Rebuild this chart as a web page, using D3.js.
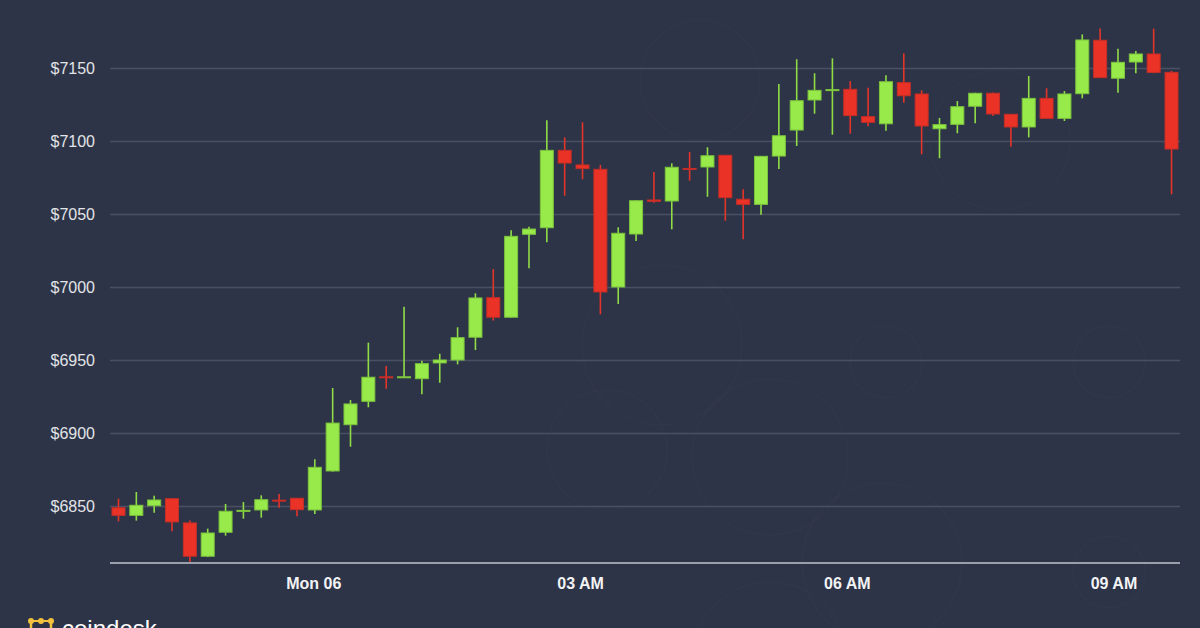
<!DOCTYPE html>
<html>
<head>
<meta charset="utf-8">
<script src="https://cdn.jsdelivr.net/npm/d3@7"></script>
<style>
  html, body { margin: 0; padding: 0; background: #2e3447; }
  svg { display: block; }
</style>
</head>
<body>
<svg id="chart" width="1200" height="628"></svg>
<script>
// ---- data (12-minute candles, Sun 5 Aug 2018 21:48 → Mon 6 Aug 09:48) ----
const startTime = new Date(2018, 7, 5, 21, 48);
const candleMinutes = 12;
const opens  = [6848.8,6843.6,6850.2,6855,6838.4,6815.6,6832,6846.5,6847.3,6854,6855.3,6847.3,6874,6905.7,6921.7,6938.5,6938,6937.2,6948,6950,
                6965.6,6992.7,6979.3,7036.1,7040.6,7093.6,7083.6,7080.6,7000,7036.3,7059.6,7058.9,7081.2,7082.2,7090.2,7060.1,7056.6,7089.7,7107.5,7128.1,
                7135,7135.4,7116.7,7111.8,7140,7132.2,7108.4,7111.4,7123.8,7132.7,7118.3,7109.6,7129.2,7115.5,7132.4,7169,7143,7154.1,7159.6,7147];
const highs  = [6855,6859.6,6857,6855.5,6840,6834.5,6851.4,6852.7,6857.3,6858.2,6855.5,6882,6930.8,6922.6,6961.9,6945.9,6986.5,6949.5,6954.3,6972.4,
                6995.7,7012.3,7038.8,7041.3,7114.2,7102.5,7112.8,7083.6,7040.9,7059.5,7078.8,7084.7,7092.5,7095.7,7090.5,7067,7089.8,7139,7156,7146.4,
                7156.6,7141.1,7136.5,7145,7160,7134.7,7115.8,7127.4,7133,7133.2,7118.5,7144.5,7136.1,7134.2,7173,7177,7163.2,7161.6,7177,7148];
const lows   = [6839.5,6840,6845.4,6832.7,6811,6815,6829.7,6841.3,6842,6848.8,6843,6844.5,6873.5,6890.6,6917.6,6930.3,6937.8,6926.5,6934.4,6947,
                6956.8,6977,6979,7012.8,7030.6,7062.5,7073.8,6981.3,6988.4,7031.5,7057.7,7039.5,7072.8,7061.8,7045.4,7032.7,7049.5,7080.8,7096.6,7118.7,
                7104.3,7105,7110.1,7107,7126.2,7090.9,7088.2,7105.3,7112.1,7117.1,7096.1,7102.5,7115.3,7113.7,7129.2,7143.2,7133,7146.4,7146.4,7063.5];
const closes = [6843.6,6850.5,6854.1,6839.1,6815.6,6831.5,6846.4,6847,6854.3,6853.5,6847.5,6876.5,6906.8,6919.9,6938.2,6938,6938.5,6947.5,6950,6965.3,
                6992.5,6979.3,7034.7,7039.7,7093.6,7084.9,7081.1,6996.6,7036.8,7059.1,7058.7,7082,7080.8,7089.9,7061.2,7056.6,7089.5,7103.6,7127.6,7134.7,
                7135.2,7117.4,7112.8,7140.6,7131,7110.3,7111.2,7123.5,7132.7,7118.5,7109.6,7129.2,7115.5,7132.2,7169.2,7143.4,7153.9,7159.6,7147,7094.5];
const priceTicks = [6850, 6900, 6950, 7000, 7050, 7100, 7150];
const timeTicks = [new Date(2018,7,6,0), new Date(2018,7,6,3), new Date(2018,7,6,6), new Date(2018,7,6,9)];

const candles = opens.map((o, i) => ({
  t: new Date(startTime.getTime() + i * candleMinutes * 60000),
  o, h: highs[i], l: lows[i], c: closes[i]
}));

// ---- layout ----
const svg = d3.select("#chart");
const left = 110, right = 1180, axisY = 563;
const padMs = 5.7 * 60000;
const x = d3.scaleTime()
  .domain([new Date(candles[0].t - padMs), new Date(+candles[candles.length-1].t + padMs)])
  .range([left, right]);
const y = d3.scaleLinear().domain([6850, 7150]).range([506, 68]);

svg.append("rect").attr("width", 1200).attr("height", 628).attr("fill", "#2e3447");

// very faint watermark circles
const wm = [[886,362,36],[1109,362,36],[1109,572,36],[662,345,80],[770,457,78],[882,563,80],[770,660,78],[700,80,60],[1000,140,70],[607,450,60]];
svg.append("g").selectAll("circle").data(wm).join("circle")
  .attr("cx", d => d[0]).attr("cy", d => d[1]).attr("r", d => d[2])
  .attr("fill", "none").attr("stroke", "rgba(255,255,255,0.016)").attr("stroke-width", 1.5);

// y axis with gridlines
const yAxis = svg.append("g").attr("transform", `translate(${left},0)`)
  .call(d3.axisLeft(y).tickValues(priceTicks).tickFormat(d => "$" + d)
        .tickSize(-(right - left)).tickPadding(15));
yAxis.select(".domain").remove();
yAxis.selectAll(".tick line").attr("stroke", "#4a5064").attr("stroke-width", 1.5);
yAxis.selectAll(".tick text").attr("fill", "#e2e4e8")
  .style("font-family", "'Liberation Sans', Arial, Helvetica, sans-serif").style("font-size", "16px");

// x axis
const fmt = d => d.getHours() === 0 ? d3.timeFormat("%a %d")(d) : d3.timeFormat("%I %p")(d);
const xAxis = svg.append("g").attr("transform", `translate(0,${axisY})`)
  .call(d3.axisBottom(x).tickValues(timeTicks).tickFormat(fmt).tickSize(0).tickPadding(15));
xAxis.select(".domain").remove();
xAxis.selectAll(".tick text").attr("fill", "#f2f3f5").attr("dx", (d, i) => -1.5 - i)
  .style("font-family", "'Liberation Sans', Arial, Helvetica, sans-serif")
  .style("font-size", "16px").style("font-weight", "bold");

// candles
const up = d => d.c >= d.o;
const bodyW = 13;
const g = svg.append("g");
g.selectAll("line.wick").data(candles).join("line").attr("class", "wick")
  .attr("x1", d => x(d.t)).attr("x2", d => x(d.t))
  .attr("y1", d => y(d.h)).attr("y2", d => y(d.l))
  .attr("stroke", d => up(d) ? "#8fdc46" : "#e3342a").attr("stroke-width", 1.6);
g.selectAll("rect.body").data(candles).join("rect").attr("class", "body")
  .attr("x", d => x(d.t) - bodyW / 2)
  .attr("y", d => y(Math.max(d.o, d.c)))
  .attr("width", bodyW)
  .attr("height", d => Math.max(1, Math.abs(y(d.o) - y(d.c))))
  .attr("fill", d => up(d) ? "#98ea4a" : "#ea3326")
  .attr("stroke", d => up(d) ? "#7cc43e" : "#c42e27").attr("stroke-width", 1);

// bottom axis line
svg.append("line").attr("x1", left).attr("x2", right).attr("y1", axisY).attr("y2", axisY)
  .attr("stroke", "#9a9fab").attr("stroke-width", 2);

// logo (cut off at bottom edge, as in the reference)
const logo = svg.append("g");
logo.append("line").attr("x1", 31).attr("x2", 51).attr("y1", 621).attr("y2", 621)
  .attr("stroke", "#f2c23c").attr("stroke-width", 2);
[31, 41, 51].forEach(cx => logo.append("circle").attr("cx", cx).attr("cy", 621).attr("r", 3).attr("fill", "#f2c23c"));
logo.append("line").attr("x1", 31).attr("x2", 31).attr("y1", 621).attr("y2", 630).attr("stroke", "#f2c23c").attr("stroke-width", 2.5);
logo.append("line").attr("x1", 51).attr("x2", 51).attr("y1", 621).attr("y2", 630).attr("stroke", "#f2c23c").attr("stroke-width", 2.5);
logo.append("text").attr("x", 62).attr("y", 637).text("coindesk")
  .attr("fill", "#ffffff").style("font-family", "'Liberation Sans', Arial, sans-serif")
  .style("font-size", "24px").style("font-weight", "normal");
</script>
</body>
</html>
